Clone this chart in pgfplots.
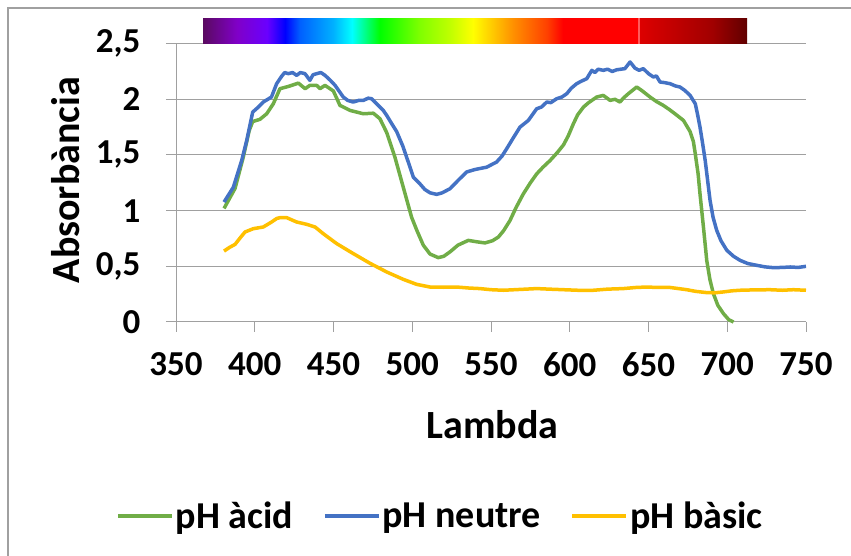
\documentclass[border=0pt]{standalone}
\usepackage{fontspec}
\setmainfont{Carlito}
\usepackage{pgfplots}
\pgfplotsset{compat=1.18}

\definecolor{acid}{RGB}{112,173,71}
\definecolor{neutre}{RGB}{68,114,196}
\definecolor{basic}{RGB}{255,192,0}
\definecolor{grd}{RGB}{160,160,160}
% colors de l'espectre
\definecolor{s1}{RGB}{90,10,96}
\definecolor{s2}{RGB}{128,0,200}
\definecolor{s3}{RGB}{106,0,255}
\definecolor{s4}{RGB}{0,0,255}
\definecolor{s5}{RGB}{0,96,255}
\definecolor{s6}{RGB}{0,176,255}
\definecolor{s7}{RGB}{0,255,255}
\definecolor{s8}{RGB}{0,255,0}
\definecolor{s9}{RGB}{128,255,0}
\definecolor{s10}{RGB}{192,255,0}
\definecolor{s11}{RGB}{255,255,0}
\definecolor{s12}{RGB}{255,144,0}
\definecolor{s13}{RGB}{255,64,0}
\definecolor{s14}{RGB}{255,0,0}
\definecolor{s15}{RGB}{255,90,90}
\definecolor{s16}{RGB}{221,0,0}
\definecolor{s17}{RGB}{160,0,0}
\definecolor{s18}{RGB}{96,0,0}

\begin{document}
\begin{tikzpicture}[x=1pt,y=1pt]
\useasboundingbox (0,0) rectangle (851,556);
% marc del grafic
\draw[grd, line width=1.5pt] (8,0) -- (8,548) -- (851,548);

\begin{axis}[
  at={(176pt,234pt)}, anchor=south west,
  scale only axis, width=630pt, height=278.4pt,
  xmin=350, xmax=750, ymin=0, ymax=2.5,
  xtick={350,400,...,750}, ytick={0,0.5,...,2.5},
  axis x line*=bottom, axis y line*=left,
  axis line style={grd, line width=1pt},
  tick style={grd, line width=1pt},
  tick align=outside, major tick length=10pt,
  ymajorgrids, grid style={grd, line width=1pt},
  /pgf/number format/.cd, use comma, 1000 sep={}, assume math mode=true,
  /pgfplots/.cd,
  ticklabel style={font=\fontsize{35}{40}\selectfont\bfseries},
  xticklabel style={yshift=-17pt},
  yticklabel style={xshift=-22pt},
  label style={font=\fontsize{40}{46}\selectfont\bfseries},
  xlabel={Lambda}, ylabel={Absorbància},
  xlabel style={at={(axis description cs:0.502,-0.37)}, anchor=center},
  ylabel style={at={(axis description cs:-0.176,0.51)}, anchor=center},
  legend columns=3,
  legend style={at={(axis description cs:0.42,-0.697)}, anchor=center, draw=none,
    font=\fontsize{38}{44}\selectfont\bfseries,
    /tikz/every even column/.append style={column sep=28pt}},
  legend image code/.code={\draw[#1, line width=3.3pt] (0pt,0pt) -- (54pt,0pt);},
  every axis plot/.append style={line width=3.5pt, line join=round},
  clip=false,
]
\addplot[acid] coordinates {
(380.5,1.02) (387.5,1.20) (392.7,1.48) (396.5,1.72) (398.7,1.80) (403.3,1.82)
(407.6,1.87) (411.8,1.96) (416,2.095) (421.3,2.115) (427.7,2.145) (432,2.095)
(435,2.125) (439.3,2.125) (441.4,2.095) (444.6,2.125) (449.9,2.075) (454.1,1.945)
(460.5,1.90) (468.9,1.87) (475.3,1.875) (479.5,1.825) (483.8,1.70) (489,1.48)
(494.3,1.21) (499.6,0.94) (503,0.82) (507,0.69) (511.3,0.61) (516.5,0.578)
(520,0.59) (524,0.63) (529,0.69) (535.6,0.733) (541,0.72) (546.2,0.71)
(551,0.73) (554.7,0.763) (558,0.82) (562,0.91) (566,1.03) (570.5,1.15)
(575,1.25) (579,1.33) (583,1.39) (587.5,1.45) (592,1.52) (596,1.59)
(599,1.67) (602.3,1.78) (605,1.86) (608.7,1.93) (612,1.97) (617.1,2.02)
(621.3,2.035) (625.6,1.99) (628.7,2.0) (631.9,1.975) (634,2.01) (637.2,2.05)
(642.5,2.11) (645.6,2.08) (651,2.02) (655,1.98) (659.4,1.945) (663,1.91)
(666.8,1.87) (672.2,1.81) (676.4,1.71) (678.5,1.62) (679.7,1.51) (681.5,1.33)
(682.7,1.15) (684.9,0.85) (687,0.55) (689,0.38) (691.2,0.255) (694,0.15)
(697.6,0.075) (701,0.02) (704,0.0)
};
\addlegendentry{pH àcid}
\addplot[neutre] coordinates {
(380.5,1.077) (386.4,1.21) (391.7,1.45) (394.9,1.63) (398.7,1.885) (402.3,1.93)
(405.4,1.975) (410.6,2.02) (413.9,2.14) (417,2.205) (419,2.24) (421.3,2.23)
(424,2.24) (426.6,2.215) (429,2.24) (431.9,2.23) (435,2.17) (437,2.22)
(439.3,2.23) (442,2.24) (444.6,2.215) (448,2.17) (451,2.125) (456.2,2.02)
(459,1.99) (462.5,1.975) (466,1.99) (469,1.99) (472,2.01) (474.2,2.005)
(477.4,1.96) (481.6,1.90) (483.8,1.855) (487,1.78) (490.1,1.71) (494,1.58)
(498.6,1.39) (500.7,1.30) (504.9,1.24) (508,1.19) (511.3,1.16) (515.5,1.146)
(519,1.16) (524,1.197) (529,1.27) (534.5,1.347) (540,1.37) (547.2,1.39)
(553.5,1.436) (557,1.49) (560,1.557) (564,1.65) (568.4,1.75) (573.7,1.81)
(579,1.915) (582,1.93) (585.4,1.975) (588,1.97) (591.7,2.005) (595,2.02)
(598.1,2.05) (601,2.10) (604.4,2.14) (607,2.16) (610.8,2.185) (614,2.26)
(616,2.24) (618,2.27) (621.3,2.26) (624,2.27) (627,2.25) (629.8,2.265)
(635,2.275) (638.3,2.335) (641.4,2.28) (644,2.26) (646.7,2.275) (650,2.23)
(653.1,2.20) (655,2.21) (657.3,2.155) (660,2.15) (663.7,2.14) (667,2.12)
(670,2.11) (673,2.08) (676.4,2.035) (679.7,1.96) (681.2,1.86) (682.7,1.75)
(684.4,1.60) (686,1.45) (689.1,1.09) (691,0.94) (693.3,0.823) (696,0.73)
(699.7,0.644) (704,0.59) (708.1,0.554) (713,0.525) (718.7,0.509) (724,0.495)
(729.3,0.488) (735,0.49) (740,0.494) (745,0.49) (750,0.50)
};
\addlegendentry{pH neutre}
\addplot[basic] coordinates {
(380.5,0.637) (384,0.67) (387.5,0.697) (391,0.76) (393.8,0.808) (399.1,0.838)
(405.4,0.853) (410.7,0.898) (414,0.93) (416,0.937) (420.3,0.937) (423,0.92)
(426.6,0.898) (433,0.877) (438.3,0.853) (443.5,0.793) (452,0.704) (462.6,0.614)
(473.2,0.527) (483.8,0.449) (494.3,0.383) (502.8,0.338) (511.3,0.314) (520,0.312)
(528.2,0.314) (536,0.305) (543,0.30) (550,0.29) (557.8,0.285) (565,0.29)
(572,0.295) (579,0.30) (587,0.295) (596,0.29) (605,0.285) (615,0.285)
(624,0.295) (634,0.30) (642,0.31) (648.8,0.314) (656,0.31) (663.7,0.31)
(669,0.30) (674.3,0.29) (680,0.275) (686.9,0.264) (692,0.262) (697.6,0.27)
(703,0.28) (708.1,0.285) (716,0.288) (727.1,0.29) (735,0.285) (742,0.29)
(750,0.285)
};
\addlegendentry{pH bàsic}
\end{axis}

% barra de l'espectre visible
\shade[left color=s1, right color=s2] (203,512) rectangle (237,537);
\shade[left color=s2, right color=s3] (237,512) rectangle (267,537);
\shade[left color=s3, right color=s4] (267,512) rectangle (285,537);
\shade[left color=s4, right color=s5] (285,512) rectangle (300,537);
\shade[left color=s5, right color=s6] (300,512) rectangle (333,537);
\shade[left color=s6, right color=s7] (333,512) rectangle (352,537);
\shade[left color=s7, right color=s8] (352,512) rectangle (380,537);
\shade[left color=s8, right color=s9] (380,512) rectangle (420,537);
\shade[left color=s9, right color=s10] (420,512) rectangle (450,537);
\shade[left color=s10, right color=s11] (450,512) rectangle (473,537);
\shade[left color=s11, right color=s12] (473,512) rectangle (513,537);
\shade[left color=s12, right color=s13] (513,512) rectangle (547,537);
\shade[left color=s13, right color=s14] (547,512) rectangle (563,537);
\shade[left color=s14, right color=s14] (563,512) rectangle (638,537);
\shade[left color=s15, right color=s15] (638,512) rectangle (640,537);
\shade[left color=s16, right color=s17] (640,512) rectangle (713,537);
\shade[left color=s17, right color=s18] (713,512) rectangle (747,537);
\end{tikzpicture}
\end{document}
